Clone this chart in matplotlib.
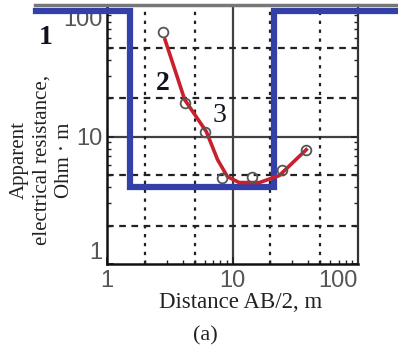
import matplotlib
matplotlib.use("Agg")
import matplotlib.pyplot as plt
from matplotlib.lines import Line2D
from matplotlib.ticker import LogLocator, NullFormatter, FixedLocator

# Data
meas_x = [2.8, 4.2, 6.0, 8.3, 14.4, 24.9, 38.7]
meas_y = [66, 18.5, 10.9, 4.7, 4.85, 5.5, 7.9]
fit_x = [2.9, 4.16, 6.2, 7.6, 9.1, 11.3, 16.4, 23.6, 38.7]
fit_y = [57.6, 19.5, 10.9, 6.6, 4.86, 4.36, 4.36, 4.95, 7.9]
model_x = [0.27, 1.52, 1.52, 21.6, 21.6, 204]
model_y = [97, 97, 4.0, 4.0, 97, 97]
tick_vals = [1, 10, 100]
tick_labels = ["1", "10", "100"]

W, H = 398, 353
fig = plt.figure(figsize=(W / 100, H / 100), dpi=100)
ax = fig.add_axes([107 / W, (H - 264) / H, (358 - 107) / W, (264 - 5) / H])
ax.set_xscale("log")
ax.set_yscale("log")
ax.set_xlim(1, 100)
ax.set_ylim(1, 108)

# grids
for v in [10]:
    ax.axvline(v, color="#404040", lw=1.6, zorder=1)
    ax.axhline(v, color="#404040", lw=1.6, zorder=1)
for d in [1, 10]:
    for m in [2, 5]:
        ax.axvline(d * m, color="#222222", lw=1.6, ls=(0, (1.5, 2.5)), zorder=1)
        ax.axhline(d * m, color="#222222", lw=1.6, ls=(0, (3, 2.5)), zorder=1)

# model (blue)
ax.plot(model_x, model_y, color="#3340a8", lw=4.5, solid_joinstyle="miter",
        clip_on=False, zorder=4)
# fit (red)
ax.plot(fit_x, fit_y, color="#c8202c", lw=2.6, zorder=5)
ax.plot(meas_x, meas_y, ls="none", marker="o", ms=7, mfc="none",
        mec="#555555", mew=1.3, zorder=6)

# ticks
ax.xaxis.set_major_locator(FixedLocator(tick_vals))
ax.yaxis.set_major_locator(FixedLocator(tick_vals))
ax.set_xticklabels(tick_labels)
ax.set_yticklabels(tick_labels)
ax.xaxis.set_minor_locator(LogLocator(base=10, subs=range(2, 10)))
ax.yaxis.set_minor_locator(LogLocator(base=10, subs=range(2, 10)))
ax.xaxis.set_minor_formatter(NullFormatter())
ax.yaxis.set_minor_formatter(NullFormatter())
ax.tick_params(which="both", direction="in", right=True, top=False,
               colors="#222222", labelcolor="#555555", labelsize=17)
ax.tick_params(axis="x", pad=4)
ax.tick_params(axis="y", pad=3)
ax.tick_params(which="major", length=5, width=1.2)
ax.tick_params(which="minor", length=3, width=1.0)
for lab in ax.get_xticklabels() + ax.get_yticklabels():
    lab.set_family(["Liberation Sans", "DejaVu Sans"])
xl = ax.get_xticklabels()
xl[-1].set_ha("right")
yl = ax.get_yticklabels()
yl[0].set_va("bottom")
yl[-1].set_va("top")

for s in ["left", "bottom"]:
    ax.spines[s].set_linewidth(1.8)
    ax.spines[s].set_color("#111111")
ax.spines["right"].set_linewidth(1.6)
ax.spines["right"].set_color("#333333")
ax.spines["top"].set_visible(False)

# top grey line
fig.add_artist(Line2D([35 / W, 1.0], [1 - 5 / H, 1 - 5 / H], color="#777777",
                      lw=2.5, transform=fig.transFigure))

serif = ["Liberation Serif", "DejaVu Serif"]
fig.text(241 / W, 1 - 302 / H, "Distance AB/2, m", family=serif, fontsize=16.5,
         color="#222222", ha="center", va="center")
fig.text(42 / W, 1 - 160 / H, "Apparent\nelectrical resistance,\nOhm \u00b7 m",
         family=serif, fontsize=15, color="#222222", rotation=90,
         ha="center", va="center", multialignment="center", linespacing=1.25)
fig.text(205 / W, 1 - 336 / H, "(a)", family=serif, fontsize=16,
         color="#222222", ha="center", va="center")

fig.text(46 / W, 1 - 38 / H, "1", family=serif, fontsize=20, weight="bold",
         color="#111122", ha="center", va="center")
fig.text(163 / W, 1 - 83 / H, "2", family=serif, fontsize=20, weight="bold",
         color="#111122", ha="center", va="center")
fig.text(220 / W, 1 - 115 / H, "3", family=serif, fontsize=20,
         color="#111122", ha="center", va="center")

fig.savefig("out.png", dpi=100)
